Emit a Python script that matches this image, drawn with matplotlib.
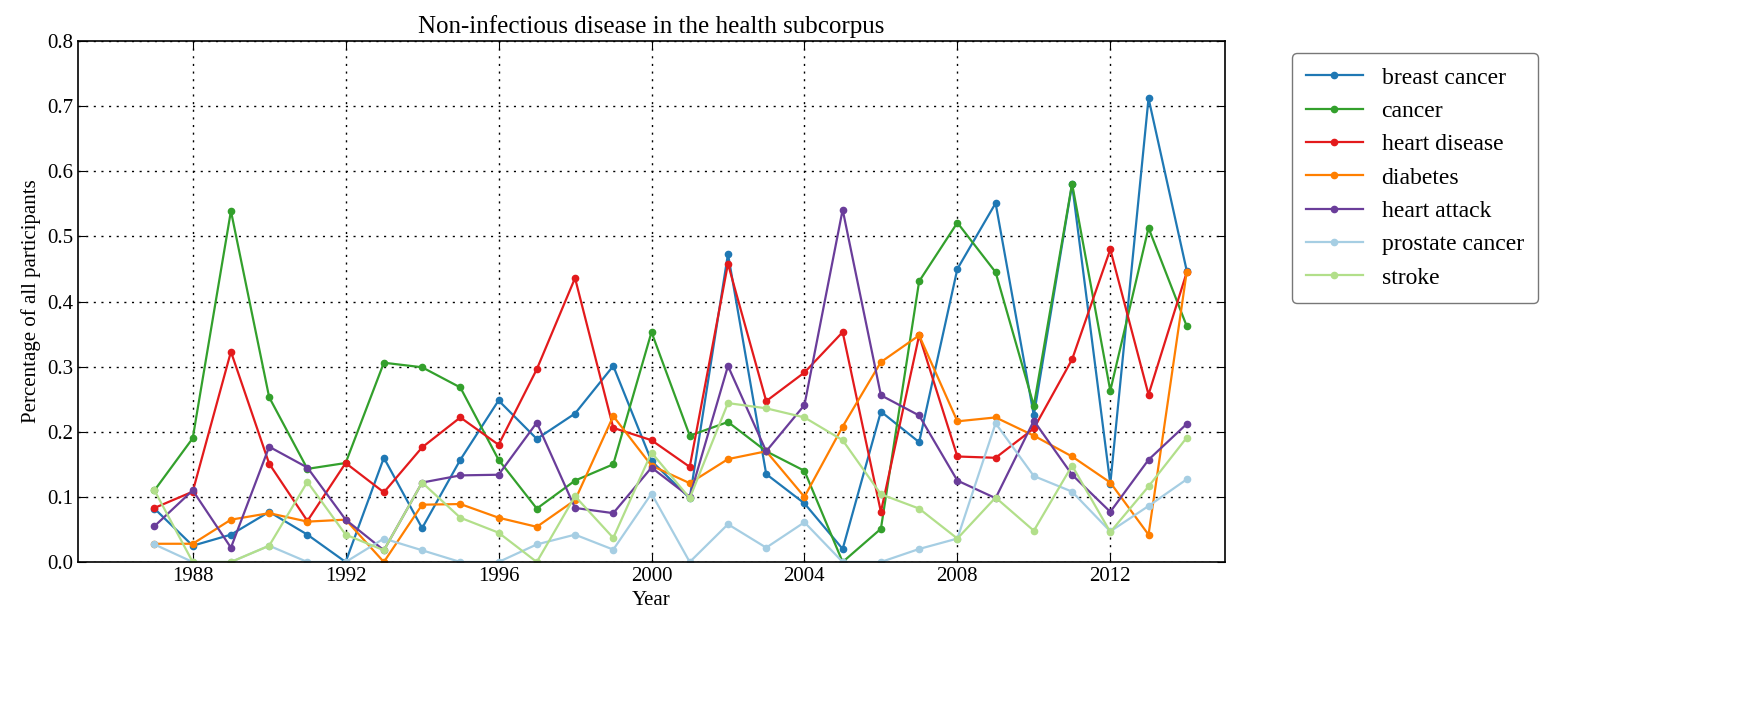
import matplotlib
matplotlib.use('Agg')
import matplotlib.pyplot as plt

plt.rcParams['font.family'] = ['Liberation Serif', 'DejaVu Serif']

years = list(range(1987, 2015))

breast_cancer = [0.082, 0.025, 0.042, 0.077, 0.042, 0.0, 0.160, 0.052, 0.157, 0.248, 0.189, 0.228, 0.301, 0.155,
                 0.098, 0.473, 0.135, 0.090, 0.020, 0.231, 0.184, 0.450, 0.551, 0.225, 0.580, 0.120, 0.712, 0.447]
cancer = [0.110, 0.190, 0.539, 0.253, 0.143, 0.152, 0.306, 0.299, 0.268, 0.157, 0.082, 0.125, 0.150, 0.353,
          0.194, 0.215, 0.170, 0.140, 0.0, 0.051, 0.431, 0.521, 0.445, 0.240, 0.581, 0.263, 0.513, 0.362]
heart_disease = [0.083, 0.108, 0.323, 0.151, 0.063, 0.152, 0.107, 0.176, 0.222, 0.180, 0.296, 0.436, 0.206, 0.187,
                 0.146, 0.458, 0.247, 0.291, 0.353, 0.077, 0.348, 0.162, 0.160, 0.205, 0.311, 0.480, 0.257, 0.445]
diabetes = [0.028, 0.028, 0.065, 0.075, 0.062, 0.065, 0.0, 0.088, 0.089, 0.068, 0.054, 0.095, 0.224, 0.148,
            0.121, 0.158, 0.170, 0.100, 0.208, 0.307, 0.348, 0.216, 0.222, 0.194, 0.162, 0.122, 0.042, 0.446]
heart_attack = [0.055, 0.110, 0.022, 0.177, 0.145, 0.065, 0.018, 0.122, 0.133, 0.134, 0.214, 0.083, 0.075, 0.145,
                0.100, 0.301, 0.170, 0.241, 0.541, 0.256, 0.225, 0.125, 0.098, 0.217, 0.134, 0.077, 0.157, 0.212]
prostate_cancer = [0.027, 0.0, 0.0, 0.025, 0.0, 0.0, 0.036, 0.018, 0.0, 0.0, 0.027, 0.042, 0.019, 0.105,
                   0.0, 0.058, 0.022, 0.061, 0.0, 0.0, 0.020, 0.036, 0.213, 0.132, 0.108, 0.047, 0.086, 0.127]
stroke = [0.110, 0.0, 0.0, 0.025, 0.123, 0.042, 0.018, 0.122, 0.068, 0.045, 0.0, 0.101, 0.037, 0.168,
          0.098, 0.244, 0.236, 0.222, 0.187, 0.104, 0.082, 0.036, 0.099, 0.048, 0.148, 0.046, 0.116, 0.191]

series = [('breast cancer', breast_cancer, '#1f78b4'),
          ('cancer', cancer, '#33a02c'),
          ('heart disease', heart_disease, '#e31a1c'),
          ('diabetes', diabetes, '#ff7f00'),
          ('heart attack', heart_attack, '#6a3d9a'),
          ('prostate cancer', prostate_cancer, '#a6cee3'),
          ('stroke', stroke, '#b2df8a')]

fig = plt.figure(figsize=(17.48, 7.05), dpi=100)
ax = fig.add_axes([78 / 1748, 1 - 562 / 705, (1225 - 78) / 1748, (562 - 41) / 705])

for name, vals, col in series:
    ax.plot(years, vals, color=col, marker='o', markersize=4.5, linewidth=1.6, label=name)

ax.set_xlim(1985, 2015)
ax.set_ylim(0, 0.8)
ax.set_xticks([1988, 1992, 1996, 2000, 2004, 2008, 2012])
ax.set_yticks([0.0, 0.1, 0.2, 0.3, 0.4, 0.5, 0.6, 0.7, 0.8])
ax.set_yticklabels(['0.0', '0.1', '0.2', '0.3', '0.4', '0.5', '0.6', '0.7', '0.8'])
ax.tick_params(direction='in', top=True, right=True, labelsize=15, length=6)
ax.grid(True, color='black', linestyle=(0, (1.5, 4)), linewidth=1)
for s in ax.spines.values():
    s.set_linewidth(1.2)

ax.set_title('Non-infectious disease in the health subcorpus', fontsize=18)
ax.set_xlabel('Year', fontsize=15)
ax.set_ylabel('Percentage of all participants', fontsize=15)

leg = ax.legend(loc='upper left', bbox_to_anchor=(1.048, 1.0), fontsize=17, frameon=True,
                fancybox=True, borderpad=0.6, labelspacing=0.5, handlelength=2.4)
leg.get_frame().set_edgecolor('#555555')

fig.savefig('out.png', dpi=100)
